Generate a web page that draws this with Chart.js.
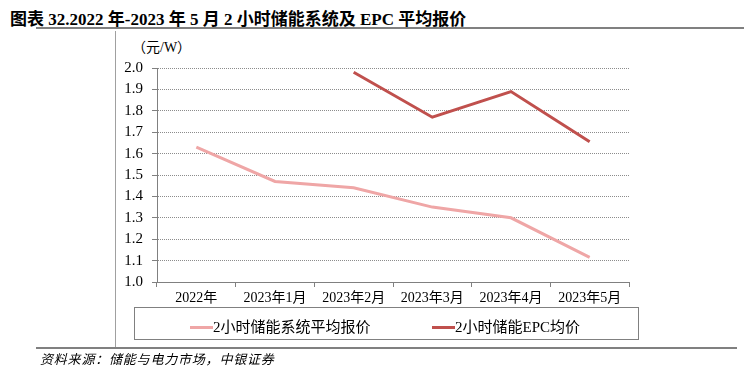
<!DOCTYPE html>
<html lang="zh">
<head>
  <meta charset="UTF-8">
  <title>2小时储能系统及EPC平均报价</title>
  <script src="https://cdn.jsdelivr.net/npm/chart.js"></script>
  <style>
    body { margin: 0; width: 744px; height: 370px; position: relative; background: #fff; overflow: hidden; }
    .serif { font-family: 'Liberation Serif', 'Noto Sans CJK SC', serif; color: #000; }
    #title { position: absolute; left: 10px; top: 5px; font-size: 17px; font-weight: bold; white-space: nowrap; }
    #unit { position: absolute; left: 132px; top: 36px; font-size: 14px; white-space: nowrap; }
    #source { position: absolute; left: 40px; top: 349px; font-size: 13px; letter-spacing: 0.8px; font-style: italic; white-space: nowrap; }
    .hline { position: absolute; height: 0; border-top: 2px solid #808080; }
    .vline { position: absolute; width: 0; border-left: 1px solid #a0a0a0; }
    #legend { position: absolute; left: 134px; top: 307px; width: 505px; height: 33px; border: 1px solid #808080; box-sizing: border-box; }
    .item { position: absolute; top: 7px; font-size: 15px; white-space: nowrap; }
    .swatch { display: inline-block; width: 23px; height: 3px; vertical-align: middle; margin-top: -2px; }
    canvas { position: absolute; left: 0; top: 0; }
  </style>
</head>
<body>
  <div id="title" class="serif">图表 32.2022 年-2023 年 5 月 2 小时储能系统及 EPC 平均报价</div>
  <div class="hline" style="left:36px; top:27px; width:708px;"></div>
  <div class="vline" style="left:115px; top:31px; height:316px;"></div>
  <div class="hline" style="left:36px; top:347px; width:701px;"></div>
  <div id="unit" class="serif">（元/W）</div>
  <canvas id="chart" width="744" height="370"></canvas>
  <div id="legend" class="serif"></div>
  <div id="source" class="serif">资料来源：储能与电力市场，中银证券</div>

  <script>
    const categories = ['2022年', '2023年1月', '2023年2月', '2023年3月', '2023年4月', '2023年5月'];
    const systemName = '2小时储能系统平均报价';
    const systemPrice = [1.63, 1.47, 1.44, 1.35, 1.30, 1.115];
    const epcName = '2小时储能EPC均价';
    const epcPrice = [null, null, 1.98, 1.77, 1.89, 1.655];
    const yTicks = [1.0, 1.1, 1.2, 1.3, 1.4, 1.5, 1.6, 1.7, 1.8, 1.9, 2.0];

    const serif = "'Liberation Serif', 'Noto Sans CJK SC', serif";
    const pink = '#efa6a6';
    const red = '#c0504d';

    new Chart(document.getElementById('chart').getContext('2d'), {
      type: 'line',
      data: {
        labels: categories,
        datasets: [
          { label: systemName, data: systemPrice, borderColor: pink, backgroundColor: pink, borderWidth: 3, pointRadius: 0 },
          { label: epcName, data: epcPrice, borderColor: red, backgroundColor: red, borderWidth: 3, pointRadius: 0 }
        ]
      },
      options: {
        responsive: false,
        animation: false,
        layout: { padding: { left: 0, top: 68, right: 115, bottom: 58 } },
        plugins: { legend: { display: false }, tooltip: { enabled: false } },
        scales: {
          x: {
            offset: true,
            grid: { offset: true, drawOnChartArea: false, tickLength: 5, tickColor: '#808080' },
            border: { color: '#808080', width: 1 },
            ticks: { font: { family: serif, size: 14 }, color: '#000', padding: 3, maxRotation: 0, autoSkip: false },
            afterFit: s => { s.height = 30; }
          },
          y: {
            min: yTicks[0],
            max: yTicks[yTicks.length - 1],
            afterBuildTicks: s => { s.ticks = yTicks.map(v => ({ value: v })); },
            grid: { color: '#8c8c8c', tickColor: '#808080', tickLength: 5, tickBorderDash: [] },
            border: { color: '#808080', width: 1, dash: [1, 1] },
            ticks: { font: { family: serif, size: 15 }, color: '#000', padding: 9, callback: v => v.toFixed(1) },
            afterFit: s => { s.width = 157; }
          }
        }
      }
    });

    // legend in its own box under the axis
    const legend = document.getElementById('legend');
    [[systemName, pink, 55], [epcName, red, 297]].forEach(([name, color, left]) => {
      const item = document.createElement('div');
      item.className = 'item';
      item.style.left = left + 'px';
      item.innerHTML = '<span class="swatch" style="background:' + color + '"></span>' + name;
      legend.appendChild(item);
    });
  </script>
</body>
</html>
